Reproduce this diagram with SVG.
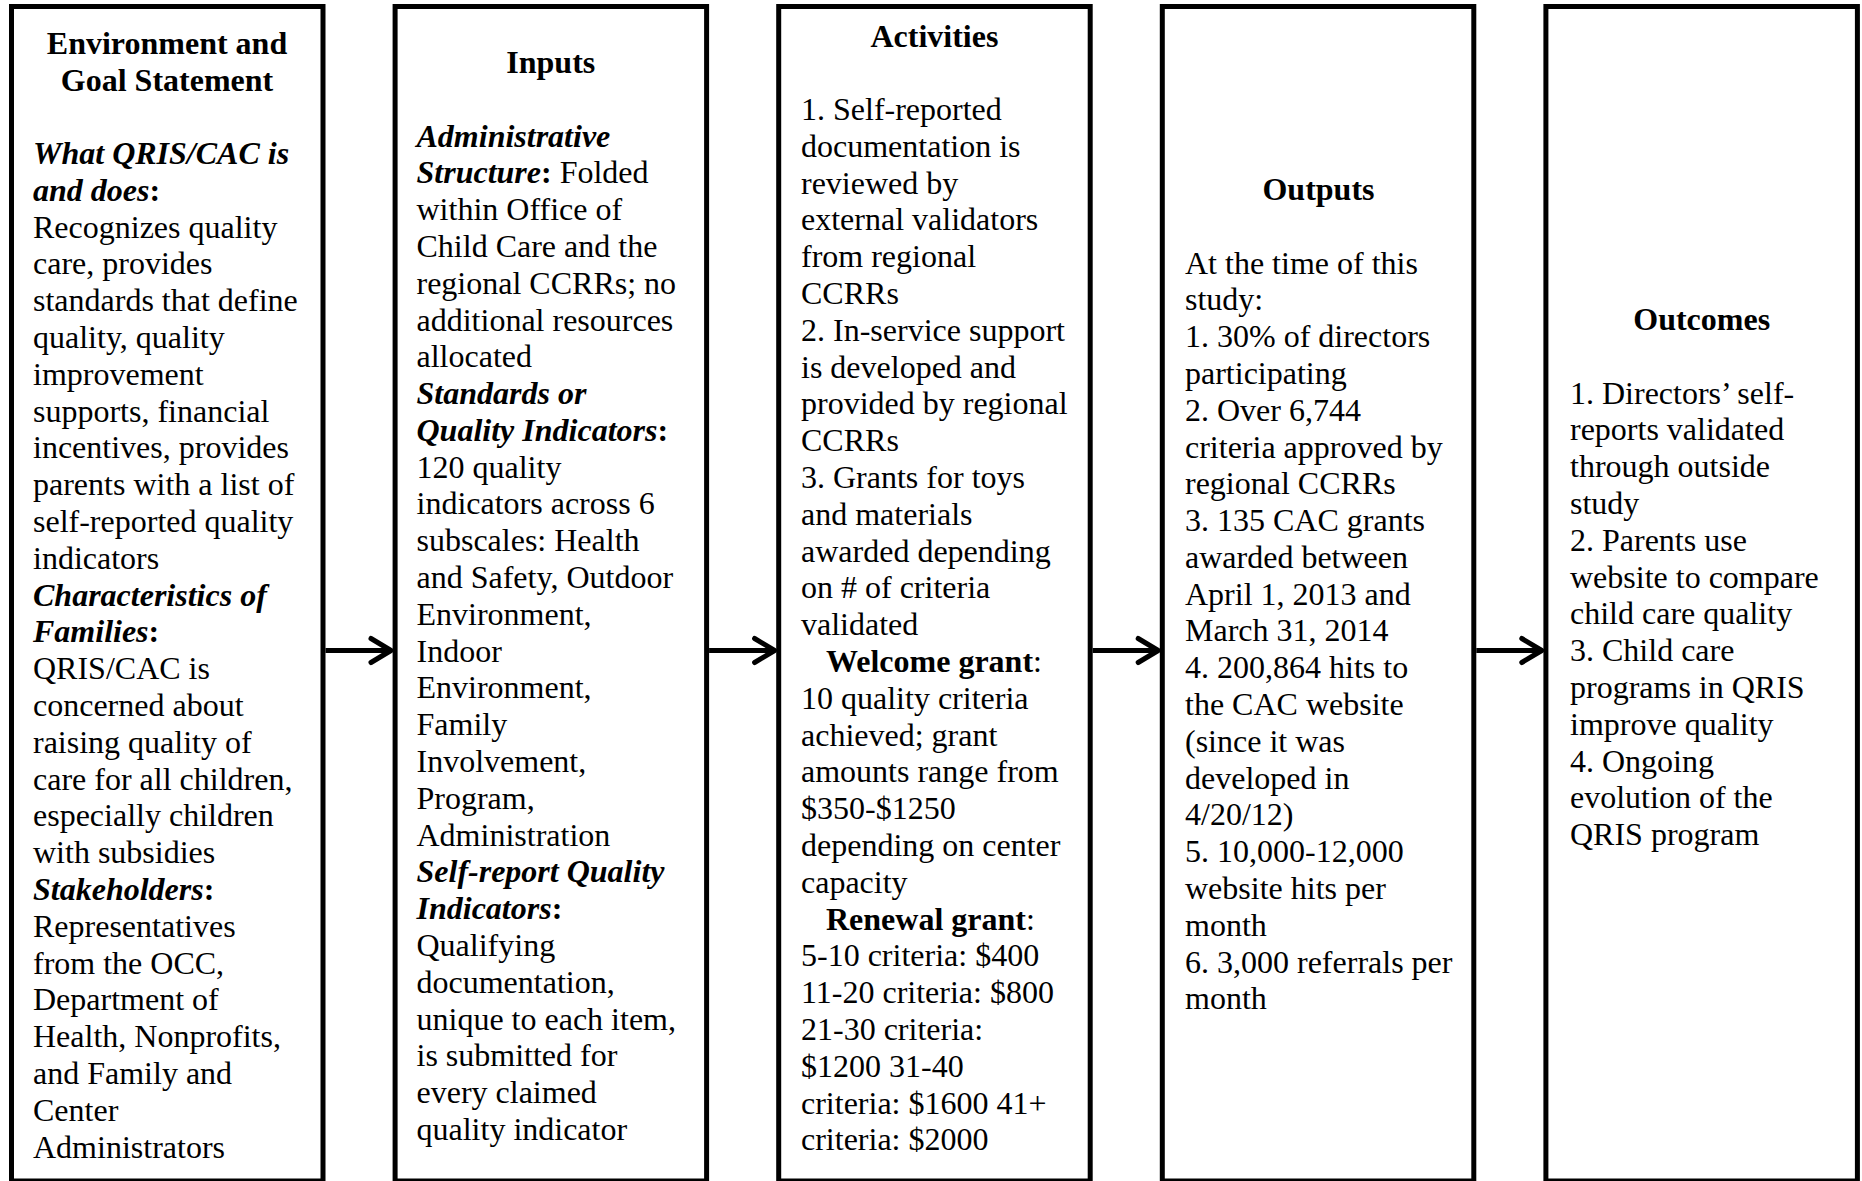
<svg xmlns="http://www.w3.org/2000/svg" width="1862" height="1181" viewBox="0 0 1862 1181">
<style>
text{font-family:"Liberation Serif","Times New Roman",serif;font-size:32px;fill:#000}
.h{font-weight:bold;text-anchor:middle}
.b{font-weight:bold}
.bi{font-weight:bold;font-style:italic}
.box{fill:#fff;stroke:#000;stroke-width:5}
.conn{stroke:#000;stroke-width:5;fill:none}
</style>
<defs>
<marker id="arr" markerUnits="userSpaceOnUse" markerWidth="30" markerHeight="30" refX="20" refY="12" orient="auto" overflow="visible">
<path d="M0,0 L20,12 L0,24" fill="none" stroke="#000" stroke-width="5" stroke-linecap="round" stroke-linejoin="round"/>
</marker>
</defs>
<rect width="1862" height="1181" fill="#fff"/>

<g id="node-environment">
<rect class="box" x="11.5" y="6.5" width="311.5" height="1174.5"/>
<text class="h" x="167" y="54">Environment and</text>
<text class="h" x="167" y="90.8">Goal Statement</text>
<text x="33" y="127.2">
<tspan x="33" dy="36.8" class="bi">What QRIS/CAC is</tspan>
<tspan x="33" dy="36.8" class="bi">and does</tspan><tspan class="b">:</tspan>
<tspan x="33" dy="36.8">Recognizes quality</tspan>
<tspan x="33" dy="36.8">care, provides</tspan>
<tspan x="33" dy="36.8">standards that define</tspan>
<tspan x="33" dy="36.8">quality, quality</tspan>
<tspan x="33" dy="36.8">improvement</tspan>
<tspan x="33" dy="36.8">supports, financial</tspan>
<tspan x="33" dy="36.8">incentives, provides</tspan>
<tspan x="33" dy="36.8">parents with a list of</tspan>
<tspan x="33" dy="36.8">self-reported quality</tspan>
<tspan x="33" dy="36.8">indicators</tspan>
<tspan x="33" dy="36.8" class="bi">Characteristics of</tspan>
<tspan x="33" dy="36.8" class="bi">Families</tspan><tspan class="b">:</tspan>
<tspan x="33" dy="36.8">QRIS/CAC is</tspan>
<tspan x="33" dy="36.8">concerned about</tspan>
<tspan x="33" dy="36.8">raising quality of</tspan>
<tspan x="33" dy="36.8">care for all children,</tspan>
<tspan x="33" dy="36.8">especially children</tspan>
<tspan x="33" dy="36.8">with subsidies</tspan>
<tspan x="33" dy="36.8" class="bi">Stakeholders</tspan><tspan class="b">:</tspan>
<tspan x="33" dy="36.8">Representatives</tspan>
<tspan x="33" dy="36.8">from the OCC,</tspan>
<tspan x="33" dy="36.8">Department of</tspan>
<tspan x="33" dy="36.8">Health, Nonprofits,</tspan>
<tspan x="33" dy="36.8">and Family and</tspan>
<tspan x="33" dy="36.8">Center</tspan>
<tspan x="33" dy="36.8">Administrators</tspan>
</text>
</g>

<g id="node-inputs">
<rect class="box" x="395.1" y="6.5" width="311.5" height="1174.5"/>
<text class="h" x="550.8" y="72.9">Inputs</text>
<text x="416.5" y="109.7">
<tspan x="416.5" dy="36.8" class="bi">Administrative</tspan>
<tspan x="416.5" dy="36.8" class="bi">Structure</tspan><tspan class="b">:</tspan><tspan> Folded</tspan>
<tspan x="416.5" dy="36.8">within Office of</tspan>
<tspan x="416.5" dy="36.8">Child Care and the</tspan>
<tspan x="416.5" dy="36.8">regional CCRRs; no</tspan>
<tspan x="416.5" dy="36.8">additional resources</tspan>
<tspan x="416.5" dy="36.8">allocated</tspan>
<tspan x="416.5" dy="36.8" class="bi">Standards or</tspan>
<tspan x="416.5" dy="36.8" class="bi">Quality Indicators</tspan><tspan class="b">:</tspan>
<tspan x="416.5" dy="36.8">120 quality</tspan>
<tspan x="416.5" dy="36.8">indicators across 6</tspan>
<tspan x="416.5" dy="36.8">subscales: Health</tspan>
<tspan x="416.5" dy="36.8">and Safety, Outdoor</tspan>
<tspan x="416.5" dy="36.8">Environment,</tspan>
<tspan x="416.5" dy="36.8">Indoor</tspan>
<tspan x="416.5" dy="36.8">Environment,</tspan>
<tspan x="416.5" dy="36.8">Family</tspan>
<tspan x="416.5" dy="36.8">Involvement,</tspan>
<tspan x="416.5" dy="36.8">Program,</tspan>
<tspan x="416.5" dy="36.8">Administration</tspan>
<tspan x="416.5" dy="36.8" class="bi">Self-report Quality</tspan>
<tspan x="416.5" dy="36.8" class="bi">Indicators</tspan><tspan class="b">:</tspan>
<tspan x="416.5" dy="36.8">Qualifying</tspan>
<tspan x="416.5" dy="36.8">documentation,</tspan>
<tspan x="416.5" dy="36.8">unique to each item,</tspan>
<tspan x="416.5" dy="36.8">is submitted for</tspan>
<tspan x="416.5" dy="36.8">every claimed</tspan>
<tspan x="416.5" dy="36.8">quality indicator</tspan>
</text>
</g>

<g id="node-activities">
<rect class="box" x="778.7" y="6.5" width="311.5" height="1174.5"/>
<text class="h" x="934.4" y="47">Activities</text>
<text x="801" y="83.2">
<tspan x="801" dy="36.8">1. Self-reported</tspan>
<tspan x="801" dy="36.8">documentation is</tspan>
<tspan x="801" dy="36.8">reviewed by</tspan>
<tspan x="801" dy="36.8">external validators</tspan>
<tspan x="801" dy="36.8">from regional</tspan>
<tspan x="801" dy="36.8">CCRRs</tspan>
<tspan x="801" dy="36.8">2. In-service support</tspan>
<tspan x="801" dy="36.8">is developed and</tspan>
<tspan x="801" dy="36.8">provided by regional</tspan>
<tspan x="801" dy="36.8">CCRRs</tspan>
<tspan x="801" dy="36.8">3. Grants for toys</tspan>
<tspan x="801" dy="36.8">and materials</tspan>
<tspan x="801" dy="36.8">awarded depending</tspan>
<tspan x="801" dy="36.8">on # of criteria</tspan>
<tspan x="801" dy="36.8">validated</tspan>
<tspan x="826" dy="36.8" class="b">Welcome grant</tspan><tspan>:</tspan>
<tspan x="801" dy="36.8">10 quality criteria</tspan>
<tspan x="801" dy="36.8">achieved; grant</tspan>
<tspan x="801" dy="36.8">amounts range from</tspan>
<tspan x="801" dy="36.8">$350-$1250</tspan>
<tspan x="801" dy="36.8">depending on center</tspan>
<tspan x="801" dy="36.8">capacity</tspan>
<tspan x="826" dy="36.8" class="b">Renewal grant</tspan><tspan>:</tspan>
<tspan x="801" dy="36.8">5-10 criteria: $400</tspan>
<tspan x="801" dy="36.8">11-20 criteria: $800</tspan>
<tspan x="801" dy="36.8">21-30 criteria:</tspan>
<tspan x="801" dy="36.8">$1200 31-40</tspan>
<tspan x="801" dy="36.8">criteria: $1600 41+</tspan>
<tspan x="801" dy="36.8">criteria: $2000</tspan>
</text>
</g>

<g id="node-outputs">
<rect class="box" x="1162.3" y="6.5" width="311.5" height="1174.5"/>
<text class="h" x="1318.5" y="200">Outputs</text>
<text x="1185" y="236.7">
<tspan x="1185" dy="36.8">At the time of this</tspan>
<tspan x="1185" dy="36.8">study:</tspan>
<tspan x="1185" dy="36.8">1. 30% of directors</tspan>
<tspan x="1185" dy="36.8">participating</tspan>
<tspan x="1185" dy="36.8">2. Over 6,744</tspan>
<tspan x="1185" dy="36.8">criteria approved by</tspan>
<tspan x="1185" dy="36.8">regional CCRRs</tspan>
<tspan x="1185" dy="36.8">3. 135 CAC grants</tspan>
<tspan x="1185" dy="36.8">awarded between</tspan>
<tspan x="1185" dy="36.8">April 1, 2013 and</tspan>
<tspan x="1185" dy="36.8">March 31, 2014</tspan>
<tspan x="1185" dy="36.8">4. 200,864 hits to</tspan>
<tspan x="1185" dy="36.8">the CAC website</tspan>
<tspan x="1185" dy="36.8">(since it was</tspan>
<tspan x="1185" dy="36.8">developed in</tspan>
<tspan x="1185" dy="36.8">4/20/12)</tspan>
<tspan x="1185" dy="36.8">5. 10,000-12,000</tspan>
<tspan x="1185" dy="36.8">website hits per</tspan>
<tspan x="1185" dy="36.8">month</tspan>
<tspan x="1185" dy="36.8">6. 3,000 referrals per</tspan>
<tspan x="1185" dy="36.8">month</tspan>
</text>
</g>

<g id="node-outcomes">
<rect class="box" x="1545.9" y="6.5" width="311.5" height="1174.5"/>
<text class="h" x="1701.7" y="330">Outcomes</text>
<text x="1570" y="366.7">
<tspan x="1570" dy="36.8">1. Directors’ self-</tspan>
<tspan x="1570" dy="36.8">reports validated</tspan>
<tspan x="1570" dy="36.8">through outside</tspan>
<tspan x="1570" dy="36.8">study</tspan>
<tspan x="1570" dy="36.8">2. Parents use</tspan>
<tspan x="1570" dy="36.8">website to compare</tspan>
<tspan x="1570" dy="36.8">child care quality</tspan>
<tspan x="1570" dy="36.8">3. Child care</tspan>
<tspan x="1570" dy="36.8">programs in QRIS</tspan>
<tspan x="1570" dy="36.8">improve quality</tspan>
<tspan x="1570" dy="36.8">4. Ongoing</tspan>
<tspan x="1570" dy="36.8">evolution of the</tspan>
<tspan x="1570" dy="36.8">QRIS program</tspan>
</text>
</g>

<g id="connectors">
<path class="conn" d="M325.5,650.5 H391" marker-end="url(#arr)"/>
<path class="conn" d="M709.1,650.5 H774.6" marker-end="url(#arr)"/>
<path class="conn" d="M1092.7,650.5 H1158.2" marker-end="url(#arr)"/>
<path class="conn" d="M1476.3,650.5 H1541.8" marker-end="url(#arr)"/>
</g>
</svg>
